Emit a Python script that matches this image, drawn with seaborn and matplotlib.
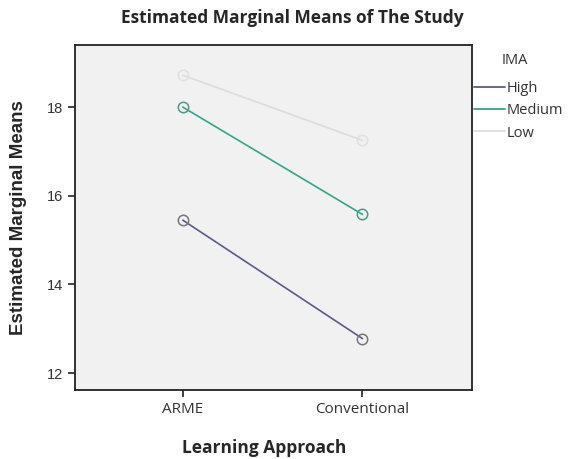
import matplotlib
matplotlib.use("Agg")
import matplotlib.pyplot as plt
from matplotlib.lines import Line2D
import seaborn as sns
import pandas as pd

approaches = ["ARME", "Conventional"]
levels = ["High", "Medium", "Low"]
high_vals = [15.45, 12.78]
medium_vals = [18.0, 15.58]
low_vals = [18.72, 17.25]
yticks = [12, 14, 16, 18]
colors = {"High": "#5c5a86", "Medium": "#35a58a", "Low": "#dcdcdc"}
marker_edges = {"High": "#777777", "Medium": "#4a9c88", "Low": "#e0e0e0"}

rows = []
for lvl, vals in zip(levels, [high_vals, medium_vals, low_vals]):
    for a, v in zip(approaches, vals):
        rows.append({"Learning Approach": a, "IMA": lvl, "Mean": v})
df = pd.DataFrame(rows)

sns.set_style("white")
fig = plt.figure(figsize=(5.71, 4.59), dpi=100)
ax = fig.add_axes([75/571, 1-390/459, (472-75)/571, (390-45)/459])
ax.set_facecolor("#f1f1f1")

sns.lineplot(data=df, x="Learning Approach", y="Mean", hue="IMA", hue_order=levels,
             palette=colors, marker="o", markerfacecolor="none", markersize=7.5,
             markeredgewidth=1.1, lw=1.2, legend=False, ax=ax, sort=False)
for line, lvl in zip(ax.lines, levels):
    line.set_markeredgecolor(marker_edges[lvl])
    line.set_markerfacecolor("none")

ax.set_xlim(-0.6, 1.61)
ax.set_ylim(11.62, 19.4)
ax.set_yticks(yticks)
ax.set_yticklabels([str(t) for t in yticks], fontsize=10.5, family="Liberation Sans", color="#333333")
ax.set_xticks([0, 1])
ax.set_xticklabels(approaches, fontsize=11, family="Open Sans", color="#333333")
ax.tick_params(axis="both", which="both", direction="out", length=5, width=1.2, color="#222222",
               left=True, bottom=True)
for s in ax.spines.values():
    s.set_color("#222222")
    s.set_linewidth(1.3)

ax.set_xlabel("")
ax.set_ylabel("Estimated Marginal Means", fontsize=13.5, fontweight="bold", family="Liberation Sans", labelpad=14)
fig.text(264/571, 1-448/459, "Learning Approach", ha="center", va="center",
         fontsize=12.5, fontweight="bold", family="Open Sans")
fig.text(292/571, 1-18/459, "Estimated Marginal Means of The Study", ha="center", va="center",
         fontsize=12.5, fontweight="bold", family="Open Sans")

fig.text(502/571, 1-61/459, "IMA", ha="left", va="center", fontsize=10.5,
         family="Open Sans", color="#333333")
handles = [Line2D([0], [0], color=colors[l], lw=1.3) for l in levels]
leg = fig.legend(handles, levels, loc="upper left", bbox_to_anchor=(474/571, 1-81/459),
                 frameon=False, handlelength=2.1, handletextpad=0.15, labelspacing=0.5,
                 borderpad=0, borderaxespad=0,
                 prop={"family": "Open Sans", "size": 10.5})
for t in leg.get_texts():
    t.set_color("#333333")

fig.savefig("out.png", dpi=100)
